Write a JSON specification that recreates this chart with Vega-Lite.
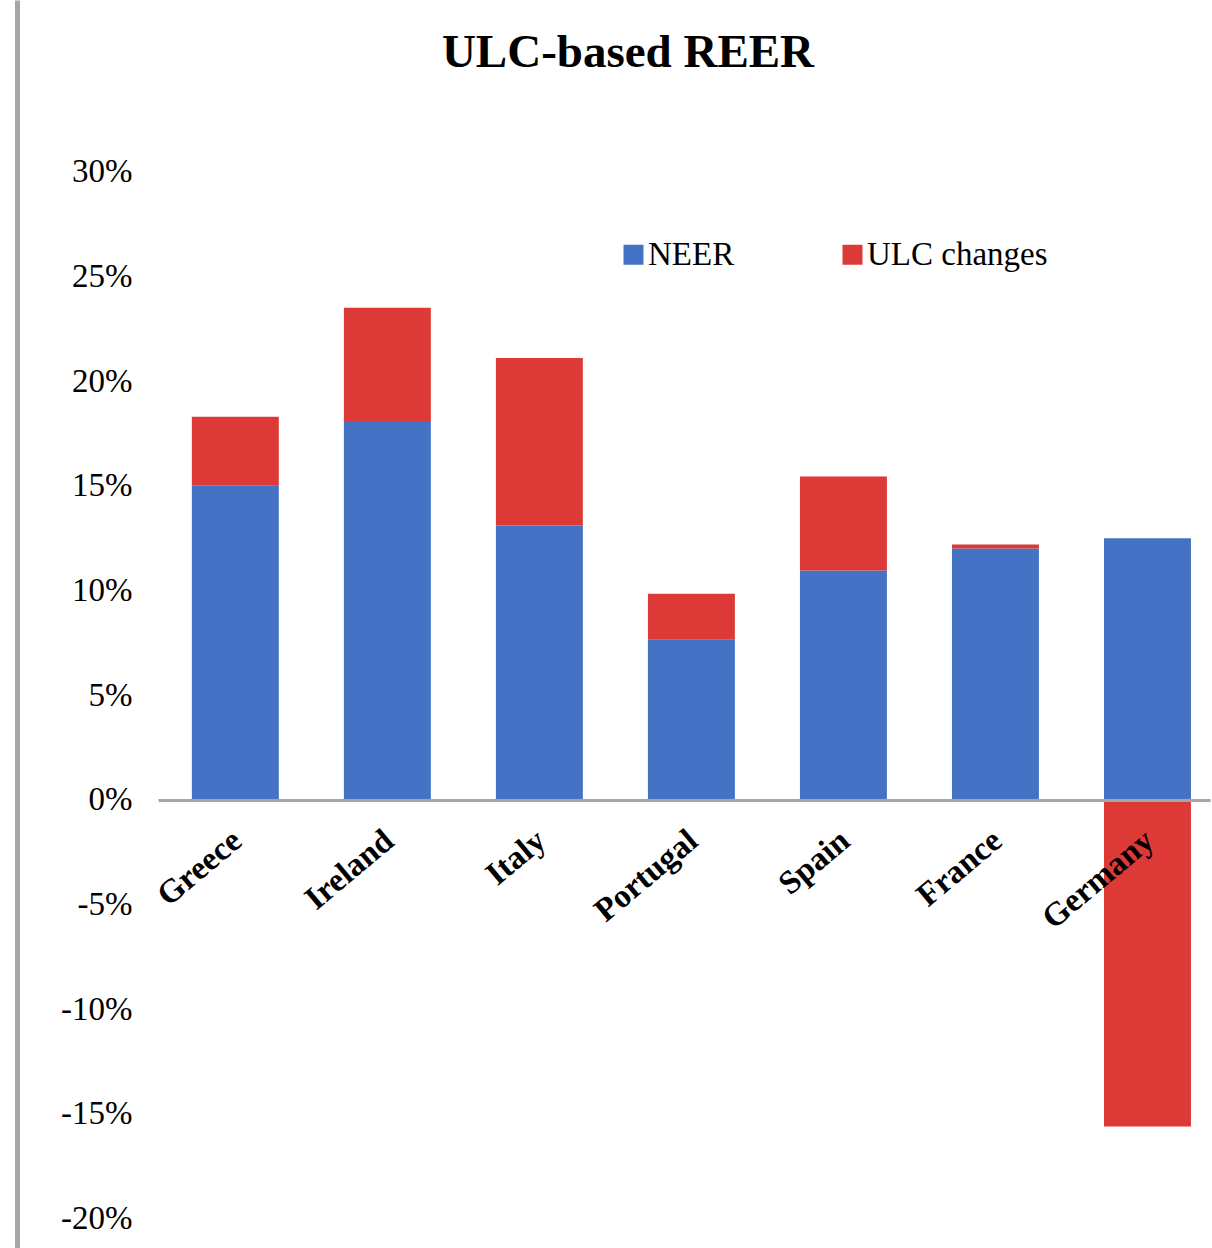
{
  "$schema": "https://vega.github.io/schema/vega-lite/v6.json",
  "width": 1052,
  "height": 1248,
  "autosize": {"type": "none"},
  "padding": {"left": 158, "top": 0, "right": 2, "bottom": 0},
  "background": "white",
  "title": {
    "text": "ULC-based REER",
    "font": "Liberation Serif",
    "fontSize": 47,
    "fontWeight": "bold",
    "color": "#000000",
    "anchor": "middle",
    "baseline": "alphabetic",
    "offset": -114,
    "dx": -56
  },
  "data": {
    "values": [
      {"country": "Greece", "series": "NEER", "value": 0.150},
      {"country": "Greece", "series": "ULC changes", "value": 0.033},
      {"country": "Ireland", "series": "NEER", "value": 0.181},
      {"country": "Ireland", "series": "ULC changes", "value": 0.054},
      {"country": "Italy", "series": "NEER", "value": 0.131},
      {"country": "Italy", "series": "ULC changes", "value": 0.080},
      {"country": "Portugal", "series": "NEER", "value": 0.0765},
      {"country": "Portugal", "series": "ULC changes", "value": 0.022},
      {"country": "Spain", "series": "NEER", "value": 0.1095},
      {"country": "Spain", "series": "ULC changes", "value": 0.045},
      {"country": "France", "series": "NEER", "value": 0.120},
      {"country": "France", "series": "ULC changes", "value": 0.002},
      {"country": "Germany", "series": "NEER", "value": 0.125},
      {"country": "Germany", "series": "ULC changes", "value": -0.156}
    ]
  },
  "mark": {"type": "bar"},
  "encoding": {
    "x": {
      "field": "country",
      "type": "nominal",
      "sort": ["Greece", "Ireland", "Italy", "Portugal", "Spain", "France", "Germany"],
      "scale": {"paddingInner": 0.428, "paddingOuter": 0.174, "align": 0.64},
      "axis": {
        "title": null,
        "orient": "bottom",
        "offset": -448,
        "zindex": 1,
        "domainColor": "#A6A6A6",
        "domainWidth": 3,
        "ticks": false,
        "tickSize": 0,
        "labelAngle": -40,
        "labelAlign": "right",
        "labelBaseline": "middle",
        "labelPadding": 36,
        "labelOffset": 2,
        "labelFont": "Liberation Serif",
        "labelFontSize": 33,
        "labelFontWeight": "bold",
        "labelColor": "#000000",
        "labelOverlap": false,
        "labelLimit": 400
      }
    },
    "y": {
      "field": "value",
      "type": "quantitative",
      "stack": "zero",
      "scale": {"domain": [-0.214, 0.382], "nice": false, "zero": false},
      "axis": {
        "title": null,
        "orient": "left",
        "offset": 141,
        "values": [-0.2, -0.15, -0.1, -0.05, 0, 0.05, 0.1, 0.15, 0.2, 0.25, 0.3],
        "labelExpr": "replace(format(datum.value, '.0%'), '\u2212', '-')",
        "grid": false,
        "ticks": false,
        "tickSize": 0,
        "domainColor": "#A6A6A6",
        "domainWidth": 5,
        "labelAlign": "right",
        "labelBaseline": "middle",
        "labelPadding": -115,
        "labelFont": "Liberation Serif",
        "labelFontSize": 33,
        "labelColor": "#000000",
        "labelOverlap": false
      }
    },
    "color": {
      "field": "series",
      "type": "nominal",
      "scale": {"domain": ["NEER", "ULC changes"], "range": ["#4472C4", "#DC3937"]},
      "legend": {
        "title": null,
        "orient": "none",
        "direction": "horizontal",
        "legendX": 459,
        "legendY": 238,
        "padding": 0,
        "symbolType": "square",
        "symbolSize": 400,
        "symbolStrokeWidth": 0,
        "symbolOpacity": 1,
        "labelFont": "Liberation Serif",
        "labelFontSize": 33,
        "labelColor": "#000000",
        "labelOffset": -2,
        "columnPadding": 101,
        "labelLimit": 400
      }
    },
    "order": {"field": "series", "sort": "ascending"}
  },
  "config": {
    "view": {"stroke": null}
  }
}
